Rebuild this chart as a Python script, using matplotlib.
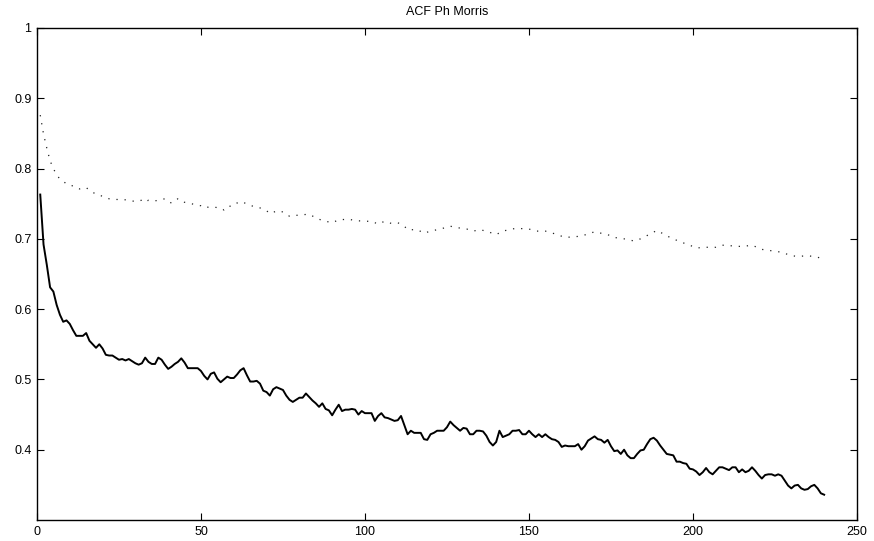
import numpy as np
import matplotlib
matplotlib.use('Agg')
import matplotlib.pyplot as plt

plt.rcParams['font.family'] = ['Liberation Sans', 'DejaVu Sans']

# ACF (trait plein), lags 1..240
acf_lags = np.arange(1, 241)
acf_vals = [
  0.763, 0.692, 0.663, 0.631, 0.625, 0.606, 0.592, 0.582, 0.584, 0.579,
  0.570, 0.562, 0.562, 0.562, 0.566, 0.555, 0.550, 0.545, 0.550, 0.544,
  0.535, 0.534, 0.534, 0.531, 0.528, 0.529, 0.527, 0.529, 0.526, 0.523,
  0.521, 0.523, 0.531, 0.525, 0.522, 0.522, 0.531, 0.528, 0.521, 0.515,
  0.518, 0.522, 0.525, 0.530, 0.524, 0.516, 0.516, 0.516, 0.516, 0.512,
  0.505, 0.500, 0.508, 0.510, 0.501, 0.496, 0.500, 0.504, 0.502, 0.502,
  0.507, 0.513, 0.516, 0.506, 0.497, 0.497, 0.498, 0.494, 0.484, 0.482,
  0.477, 0.486, 0.489, 0.487, 0.485, 0.477, 0.471, 0.468, 0.471, 0.474,
  0.474, 0.480, 0.475, 0.470, 0.466, 0.461, 0.466, 0.458, 0.456, 0.449,
  0.457, 0.464, 0.455, 0.457, 0.457, 0.458, 0.457, 0.450, 0.455, 0.452,
  0.452, 0.452, 0.441, 0.448, 0.452, 0.446, 0.445, 0.443, 0.441, 0.442,
  0.448, 0.435, 0.422, 0.427, 0.424, 0.424, 0.424, 0.415, 0.414, 0.422,
  0.424, 0.427, 0.427, 0.427, 0.432, 0.440, 0.435, 0.431, 0.427, 0.431,
  0.430, 0.422, 0.422, 0.427, 0.427, 0.426, 0.420, 0.411, 0.406, 0.411,
  0.427, 0.418, 0.420, 0.422, 0.427, 0.427, 0.428, 0.422, 0.422, 0.427,
  0.422, 0.418, 0.422, 0.418, 0.422, 0.418, 0.415, 0.414, 0.411, 0.404,
  0.406, 0.405, 0.405, 0.405, 0.408, 0.400, 0.405, 0.413, 0.416, 0.419,
  0.415, 0.414, 0.410, 0.414, 0.405, 0.398, 0.399, 0.394, 0.400, 0.392,
  0.388, 0.388, 0.394, 0.399, 0.400, 0.408, 0.415, 0.417, 0.413, 0.406,
  0.400, 0.394, 0.393, 0.392, 0.383, 0.383, 0.381, 0.380, 0.373, 0.372,
  0.369, 0.364, 0.368, 0.374, 0.368, 0.365, 0.370, 0.375, 0.375, 0.373,
  0.371, 0.375, 0.375, 0.368, 0.372, 0.368, 0.370, 0.375, 0.370, 0.364,
  0.359, 0.364, 0.365, 0.365, 0.363, 0.365, 0.363, 0.356, 0.349, 0.345,
  0.349, 0.350, 0.345, 0.343, 0.344, 0.348, 0.350, 0.345, 0.338, 0.336,
]

# Courbe pointillée (lags)
dot_lags = [
  1, 2, 3, 4, 5, 6, 7, 8, 9, 10, 11, 12, 13, 14, 15, 16, 17, 18, 19, 20,
  22, 24, 26, 28, 30, 32, 33, 34, 36, 38, 39, 40, 41, 42, 43, 44, 45, 46, 48, 50,
  51, 52, 54, 56, 57, 58, 60, 61, 62, 64, 66, 68, 70, 71, 72, 74, 76, 77, 80, 83,
  85, 87, 90, 92, 95, 97, 100, 102, 104, 106, 108, 110, 112, 113, 116, 118, 120, 123, 126, 128,
  131, 133, 135, 137, 140, 142, 144, 146, 150, 152, 155, 158, 161, 164, 166, 168, 170, 172, 174, 176,
  179, 182, 184, 187, 189, 191, 193, 196, 199, 201, 204, 207, 209, 212, 215, 218, 221, 224, 227, 230,
  232, 235, 238, 240,
]
dot_vals = [
  0.876, 0.849, 0.829, 0.811, 0.800, 0.791, 0.785, 0.782, 0.778, 0.777,
  0.775, 0.772, 0.771, 0.772, 0.773, 0.769, 0.766, 0.764, 0.763, 0.760,
  0.757, 0.756, 0.756, 0.755, 0.753, 0.755, 0.752, 0.755, 0.754, 0.756,
  0.757, 0.753, 0.751, 0.755, 0.757, 0.756, 0.752, 0.751, 0.749, 0.747,
  0.744, 0.745, 0.745, 0.744, 0.741, 0.746, 0.747, 0.751, 0.753, 0.750,
  0.746, 0.744, 0.740, 0.736, 0.738, 0.740, 0.736, 0.732, 0.734, 0.735,
  0.730, 0.726, 0.723, 0.727, 0.728, 0.726, 0.725, 0.725, 0.721, 0.725,
  0.722, 0.723, 0.718, 0.713, 0.713, 0.708, 0.711, 0.714, 0.718, 0.716,
  0.714, 0.711, 0.713, 0.711, 0.706, 0.711, 0.713, 0.715, 0.714, 0.711,
  0.711, 0.707, 0.702, 0.703, 0.704, 0.707, 0.710, 0.708, 0.706, 0.702,
  0.700, 0.697, 0.700, 0.707, 0.712, 0.707, 0.702, 0.696, 0.691, 0.687,
  0.688, 0.688, 0.691, 0.690, 0.689, 0.691, 0.685, 0.683, 0.681, 0.676,
  0.675, 0.676, 0.674, 0.670,
]

x_ticks = [0, 50, 100, 150, 200, 250]
y_ticks = [0.4, 0.5, 0.6, 0.7, 0.8, 0.9, 1.0]
y_labels = ['0.4', '0.5', '0.6', '0.7', '0.8', '0.9', '1']

fig = plt.figure(figsize=(8.74, 5.41), dpi=100)
ax = fig.add_axes([0.0423, 0.0388, 0.9382, 0.9095])

ax.plot(dot_lags, dot_vals, color='#222222', linewidth=0.9, linestyle=(0, (1, 5.5)))
ax.plot(acf_lags, acf_vals, color='black', linewidth=1.4)

ax.set_xlim(0, 250)
ax.set_ylim(0.3, 1.0)
ax.set_xticks(x_ticks)
ax.set_yticks(y_ticks)
ax.set_yticklabels(y_labels)
ax.tick_params(direction='in', length=5, width=0.8, labelsize=9,
               top=True, right=True, pad=4)
for s in ax.spines.values():
  s.set_linewidth(1.0)

ax.set_title('ACF Ph Morris', fontsize=9, pad=9)

plt.savefig('out.png', dpi=100)
